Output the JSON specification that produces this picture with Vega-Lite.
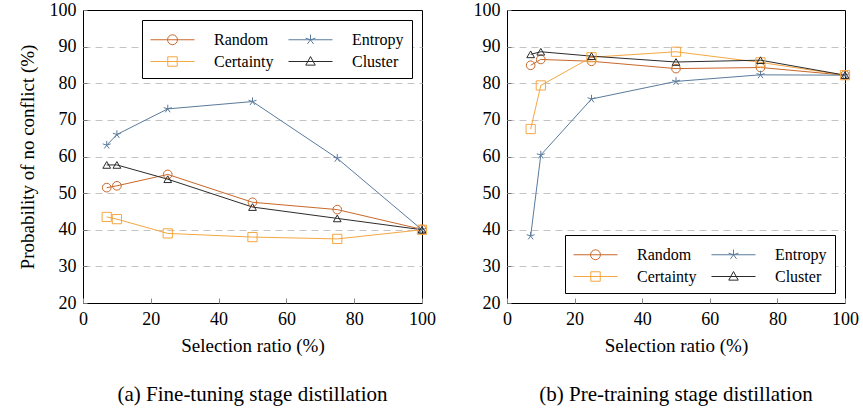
{
  "$schema": "https://vega.github.io/schema/vega-lite/v6.json",
  "padding": {"left": 17, "top": 0, "right": 5, "bottom": 0},
  "background": "white",
  "config": {
    "font": "Liberation Serif",
    "view": {"stroke": "black", "strokeWidth": 1},
    "style": {"guide-label": {"font": "Liberation Serif"}, "guide-title": {"font": "Liberation Serif"}},
    "axis": {"labelFont": "Liberation Serif", "titleFont": "Liberation Serif", "labelFontSize": 18, "titleFontSize": 19, "titleFontWeight": "normal", "labelColor": "black", "titleColor": "black", "domainColor": "black"},
    "legend": {"labelFont": "Liberation Serif", "labelFontSize": 16, "labelColor": "black"},
    "title": {"font": "Liberation Serif", "fontSize": 21, "fontWeight": "normal", "color": "black"},
    "concat": {"spacing": 36}
  },
  "datasets": {
    "d": [
      {"stage": "a", "method": "Random", "ratio": 7, "p": 51.5},
      {"stage": "a", "method": "Random", "ratio": 10, "p": 52.0},
      {"stage": "a", "method": "Random", "ratio": 25, "p": 55.1},
      {"stage": "a", "method": "Random", "ratio": 50, "p": 47.5},
      {"stage": "a", "method": "Random", "ratio": 75, "p": 45.5},
      {"stage": "a", "method": "Random", "ratio": 100, "p": 40.1},
      {"stage": "a", "method": "Entropy", "ratio": 7, "p": 63.1},
      {"stage": "a", "method": "Entropy", "ratio": 10, "p": 66.0},
      {"stage": "a", "method": "Entropy", "ratio": 25, "p": 73.0},
      {"stage": "a", "method": "Entropy", "ratio": 50, "p": 75.0},
      {"stage": "a", "method": "Entropy", "ratio": 75, "p": 59.5},
      {"stage": "a", "method": "Entropy", "ratio": 100, "p": 40.0},
      {"stage": "a", "method": "Certainty", "ratio": 7, "p": 43.5},
      {"stage": "a", "method": "Certainty", "ratio": 10, "p": 42.9},
      {"stage": "a", "method": "Certainty", "ratio": 25, "p": 39.0},
      {"stage": "a", "method": "Certainty", "ratio": 50, "p": 38.0},
      {"stage": "a", "method": "Certainty", "ratio": 75, "p": 37.5},
      {"stage": "a", "method": "Certainty", "ratio": 100, "p": 40.0},
      {"stage": "a", "method": "Cluster", "ratio": 7, "p": 57.7},
      {"stage": "a", "method": "Cluster", "ratio": 10, "p": 57.7},
      {"stage": "a", "method": "Cluster", "ratio": 25, "p": 53.8},
      {"stage": "a", "method": "Cluster", "ratio": 50, "p": 46.2},
      {"stage": "a", "method": "Cluster", "ratio": 75, "p": 43.1},
      {"stage": "a", "method": "Cluster", "ratio": 100, "p": 40.0},
      {"stage": "b", "method": "Random", "ratio": 7, "p": 84.9},
      {"stage": "b", "method": "Random", "ratio": 10, "p": 86.5},
      {"stage": "b", "method": "Random", "ratio": 25, "p": 86.0},
      {"stage": "b", "method": "Random", "ratio": 50, "p": 84.0},
      {"stage": "b", "method": "Random", "ratio": 75, "p": 84.3},
      {"stage": "b", "method": "Random", "ratio": 100, "p": 82.2},
      {"stage": "b", "method": "Entropy", "ratio": 7, "p": 38.3},
      {"stage": "b", "method": "Entropy", "ratio": 10, "p": 60.4},
      {"stage": "b", "method": "Entropy", "ratio": 25, "p": 75.7},
      {"stage": "b", "method": "Entropy", "ratio": 50, "p": 80.5},
      {"stage": "b", "method": "Entropy", "ratio": 75, "p": 82.3},
      {"stage": "b", "method": "Entropy", "ratio": 100, "p": 82.2},
      {"stage": "b", "method": "Certainty", "ratio": 7, "p": 67.5},
      {"stage": "b", "method": "Certainty", "ratio": 10, "p": 79.4},
      {"stage": "b", "method": "Certainty", "ratio": 25, "p": 87.1},
      {"stage": "b", "method": "Certainty", "ratio": 50, "p": 88.6},
      {"stage": "b", "method": "Certainty", "ratio": 75, "p": 85.7},
      {"stage": "b", "method": "Certainty", "ratio": 100, "p": 82.2},
      {"stage": "b", "method": "Cluster", "ratio": 7, "p": 87.9},
      {"stage": "b", "method": "Cluster", "ratio": 10, "p": 88.6},
      {"stage": "b", "method": "Cluster", "ratio": 25, "p": 87.4},
      {"stage": "b", "method": "Cluster", "ratio": 50, "p": 85.8},
      {"stage": "b", "method": "Cluster", "ratio": 75, "p": 86.3},
      {"stage": "b", "method": "Cluster", "ratio": 100, "p": 82.2}
    ]
  },
  "resolve": {"scale": {"color": "independent"}, "legend": {"color": "independent"}},
  "hconcat": [
    {
      "width": 339,
      "height": 293,
      "data": {"name": "d"},
      "transform": [{"filter": "datum.stage === 'a'"}],
      "title": {"text": "(a) Fine-tuning stage distillation", "orient": "bottom", "offset": 29, "font": "Liberation Serif"},
      "encoding": {
        "x": {"field": "ratio", "type": "quantitative", "scale": {"domain": [0, 100], "nice": false}, "axis": {"title": "Selection ratio (%)", "labelFont": "Liberation Serif", "titleFont": "Liberation Serif", "labelFontSize": 18, "titleFontSize": 19, "values": [0, 20, 40, 60, 80, 100], "grid": false, "tickSize": -5, "tickColor": "#888", "labelPadding": 12, "titlePadding": 8, "domain": false, "labelFlush": false}},
        "y": {"field": "p", "type": "quantitative", "scale": {"domain": [20, 100], "nice": false}, "axis": {"title": "Probability of no conflict (%)", "labelFont": "Liberation Serif", "titleFont": "Liberation Serif", "labelFontSize": 18, "titleFontSize": 19, "values": [20, 30, 40, 50, 60, 70, 80, 90, 100], "grid": true, "gridDash": [7, 5], "gridColor": {"condition": {"test": "datum.value === 20 || datum.value === 100", "value": "transparent"}, "value": "#c4c4c4"}, "tickSize": -4, "tickColor": "#777", "labelPadding": 11, "titlePadding": 12, "domain": false, "labelFlush": false}},
        "color": {"field": "method", "type": "nominal", "scale": {"domain": ["Random", "Entropy", "Certainty", "Cluster"], "range": ["#c8682a", "#5a7b9c", "#f5a742", "#2b2b2b"]}, "legend": {"title": null, "orient": "top-right", "offset": 10, "columns": 2, "direction": "horizontal", "fillColor": "white", "strokeColor": "black", "padding": 8, "columnPadding": 12, "rowPadding": 2, "symbolSize": 484, "symbolOffset": 11, "symbolStrokeWidth": 1, "labelOffset": 30, "labelFont": "Liberation Serif", "labelFontSize": 16, "encode": {"symbols": {"update": {"shape": {"signal": "datum.value === 'Random' ? 'M-2,0L2,0M-0.45,0A0.45,0.45 0 1,0 0.45,0A0.45,0.45 0 1,0 -0.45,0' : datum.value === 'Certainty' ? 'M-2,0L2,0M-0.43,-0.43L0.43,-0.43L0.43,0.43L-0.43,0.43Z' : datum.value === 'Cluster' ? 'M-2,0L2,0M0,-0.45L0.43,0.33L-0.43,0.33Z' : 'M-2,0L2,0M0,0L0,-0.47M0,0L-0.447,-0.145M0,0L-0.276,0.38M0,0L0.276,0.38M0,0L0.447,-0.145'"}, "fill": {"value": "transparent"}, "strokeWidth": {"value": 1}}}}}}
      },
      "layer": [
        {"mark": {"type": "line", "strokeWidth": 1}},
        {"transform": [{"filter": "datum.method === 'Random'"}], "mark": {"type": "point", "shape": "circle", "filled": false, "size": 75, "strokeWidth": 1, "opacity": 1}},
        {"transform": [{"filter": "datum.method === 'Entropy'"}], "mark": {"type": "point", "shape": "M0,0L0,-1M0,0L-0.951,-0.309M0,0L-0.588,0.809M0,0L0.588,0.809M0,0L0.951,-0.309", "filled": false, "size": 70, "strokeWidth": 1, "opacity": 1}},
        {"transform": [{"filter": "datum.method === 'Certainty'"}], "mark": {"type": "point", "shape": "square", "filled": false, "size": 85, "strokeWidth": 1, "opacity": 1}},
        {"transform": [{"filter": "datum.method === 'Cluster'"}], "mark": {"type": "point", "shape": "triangle-up", "filled": false, "size": 60, "strokeWidth": 1, "opacity": 1}}
      ]
    },
    {
      "width": 338,
      "height": 293,
      "data": {"name": "d"},
      "transform": [{"filter": "datum.stage === 'b'"}],
      "title": {"text": "(b) Pre-training stage distillation", "orient": "bottom", "offset": 29, "font": "Liberation Serif"},
      "encoding": {
        "x": {"field": "ratio", "type": "quantitative", "scale": {"domain": [0, 100], "nice": false}, "axis": {"title": "Selection ratio (%)", "labelFont": "Liberation Serif", "titleFont": "Liberation Serif", "labelFontSize": 18, "titleFontSize": 19, "values": [0, 20, 40, 60, 80, 100], "grid": false, "tickSize": -5, "tickColor": "#888", "labelPadding": 12, "titlePadding": 8, "domain": false, "labelFlush": false}},
        "y": {"field": "p", "type": "quantitative", "scale": {"domain": [20, 100], "nice": false}, "axis": {"title": null, "labelFont": "Liberation Serif", "labelFontSize": 18, "values": [20, 30, 40, 50, 60, 70, 80, 90, 100], "grid": true, "gridDash": [7, 5], "gridColor": {"condition": {"test": "datum.value === 20 || datum.value === 100", "value": "transparent"}, "value": "#c4c4c4"}, "tickSize": -4, "tickColor": "#777", "labelPadding": 11, "domain": false, "labelFlush": false}},
        "color": {"field": "method", "type": "nominal", "scale": {"domain": ["Random", "Entropy", "Certainty", "Cluster"], "range": ["#c8682a", "#5a7b9c", "#f5a742", "#2b2b2b"]}, "legend": {"title": null, "orient": "bottom-right", "offset": 10, "columns": 2, "direction": "horizontal", "fillColor": "white", "strokeColor": "black", "padding": 8, "columnPadding": 12, "rowPadding": 2, "symbolSize": 484, "symbolOffset": 11, "symbolStrokeWidth": 1, "labelOffset": 30, "labelFont": "Liberation Serif", "labelFontSize": 16, "encode": {"symbols": {"update": {"shape": {"signal": "datum.value === 'Random' ? 'M-2,0L2,0M-0.45,0A0.45,0.45 0 1,0 0.45,0A0.45,0.45 0 1,0 -0.45,0' : datum.value === 'Certainty' ? 'M-2,0L2,0M-0.43,-0.43L0.43,-0.43L0.43,0.43L-0.43,0.43Z' : datum.value === 'Cluster' ? 'M-2,0L2,0M0,-0.45L0.43,0.33L-0.43,0.33Z' : 'M-2,0L2,0M0,0L0,-0.47M0,0L-0.447,-0.145M0,0L-0.276,0.38M0,0L0.276,0.38M0,0L0.447,-0.145'"}, "fill": {"value": "transparent"}, "strokeWidth": {"value": 1}}}}}}
      },
      "layer": [
        {"mark": {"type": "line", "strokeWidth": 1}},
        {"transform": [{"filter": "datum.method === 'Random'"}], "mark": {"type": "point", "shape": "circle", "filled": false, "size": 75, "strokeWidth": 1, "opacity": 1}},
        {"transform": [{"filter": "datum.method === 'Entropy'"}], "mark": {"type": "point", "shape": "M0,0L0,-1M0,0L-0.951,-0.309M0,0L-0.588,0.809M0,0L0.588,0.809M0,0L0.951,-0.309", "filled": false, "size": 70, "strokeWidth": 1, "opacity": 1}},
        {"transform": [{"filter": "datum.method === 'Certainty'"}], "mark": {"type": "point", "shape": "square", "filled": false, "size": 85, "strokeWidth": 1, "opacity": 1}},
        {"transform": [{"filter": "datum.method === 'Cluster'"}], "mark": {"type": "point", "shape": "triangle-up", "filled": false, "size": 60, "strokeWidth": 1, "opacity": 1}}
      ]
    }
  ]
}
